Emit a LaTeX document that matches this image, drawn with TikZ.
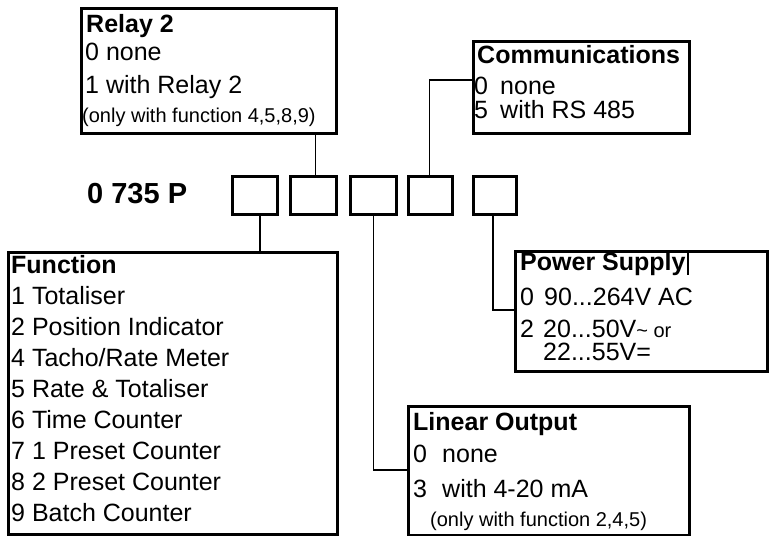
\documentclass[tikz,border=0pt]{standalone}
\usepackage{fontspec}
\setmainfont{Liberation Sans}
\begin{document}
\begin{tikzpicture}[x=1pt,y=-1pt,
  box/.style={draw,line width=2.6pt,inner sep=0pt,anchor=north west},
  digit/.style={box,minimum height=38pt},
  conn/.style={line width=1.6pt},
  txt/.style={inner sep=0pt,anchor=base west,font=\fontsize{25}{30}\selectfont},
  hd/.style={inner sep=0pt,anchor=base west,font=\fontsize{25}{30}\selectfont\bfseries},
  sm/.style={inner sep=0pt,anchor=base west,font=\fontsize{20}{24}\selectfont}]
\useasboundingbox (0,0) rectangle (772,536);
% boxes
\node[box,minimum width=255pt,minimum height=125pt] (relay) at (80,7) {};
\node[box,minimum width=216pt,minimum height=92pt] (comm) at (472,40) {};
\node[box,minimum width=329pt,minimum height=282pt] (func) at (7,251) {};
\node[box,minimum width=252pt,minimum height=120pt] (power) at (514,250) {};
\node[box,minimum width=281pt,minimum height=129pt] (lin) at (407,405) {};
% digit boxes
\node[digit,minimum width=45pt] (d1) at (231,175) {};
\node[digit,minimum width=46pt] (d2) at (289,175) {};
\node[digit,minimum width=46pt] (d3) at (349,175) {};
\node[digit,minimum width=44pt] (d4) at (407,175) {};
\node[digit,minimum width=43pt] (d5) at (472,175) {};
% title
\node[inner sep=0pt,anchor=base west,font=\fontsize{29}{34}\selectfont\bfseries] (title) at (87,203) {0 735 P};
% relay texts
\node[hd] (r0) at (86,32) {Relay 2};
\node[txt] (r1) at (85,60) {0 none};
\node[txt] (r2) at (85,93) {1 with Relay 2};
\node[sm] (r3) at (82,122) {(only with function 4,5,8,9)};
% communications texts
\node[hd] (c0) at (477,63) {Communications};
\node[txt] (c1a) at (474,94) {0};
\node[txt] (c1b) at (500,94) {none};
\node[txt] (c2a) at (474,118) {5};
\node[txt] (c2b) at (500,118) {with RS 485};
% function texts
\node[hd] (f0) at (11,273) {Function};
\node[txt] (f1) at (11,304) {1 Totaliser};
\node[txt] (f2) at (11,335) {2 Position Indicator};
\node[txt] (f3) at (11,366) {4 Tacho/Rate Meter};
\node[txt] (f4) at (11,397) {5 Rate \& Totaliser};
\node[txt] (f5) at (11,428.5) {6 Time Counter};
\node[txt] (f6) at (11,459.6) {7 1 Preset Counter};
\node[txt] (f7) at (11,490.7) {8 2 Preset Counter};
\node[txt] (f8) at (11,521.8) {9 Batch Counter};
% power supply texts
\node[hd] (p0) at (520,270) {Power Supply};
\draw[line width=2.6pt] (688,250) -- (688,275);
\node[txt] (p1a) at (520,305) {0};
\node[txt] (p1b) at (544,305) {90...264V AC};
\node[txt] (p2a) at (520,337) {2};
\node[txt] (p2b) at (543,337) {20...50V{\fontsize{20}{24}\selectfont\textasciitilde\ or}};
\node[txt] (p3) at (543,360) {22...55V=};
% linear output texts
\node[hd] (l0) at (413,430) {Linear Output};
\node[txt] (l1a) at (413,462) {0};
\node[txt] (l1b) at (442,462) {none};
\node[txt] (l2a) at (413,497) {3};
\node[txt] (l2b) at (442,497) {with 4-20 mA};
\node[sm] (l3) at (430,526) {(only with function 2,4,5)};
% connectors
\draw[conn] ([xshift=2pt]d2.north) -- ([xshift=2pt]d2.north |- relay.south);
\coordinate (cc) at (472,80);
\draw[conn] ([xshift=-1pt]d4.north) |- (cc);
\draw[conn] ([xshift=5pt]d1.south) -- ([xshift=5pt]d1.south |- func.north);
\coordinate (lc) at (407,470);
\draw[conn] (d3.south) |- (lc);
\coordinate (pc) at (514,310);
\draw[conn] ([xshift=-2pt]d5.south) |- (pc);
\end{tikzpicture}
\end{document}
